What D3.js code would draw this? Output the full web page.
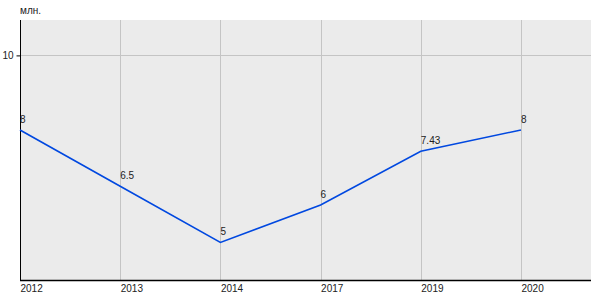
<!DOCTYPE html>
<html>
  <head>
    <meta charset="utf-8">
    <script type="text/javascript" src="https://cdn.jsdelivr.net/npm/d3@7"></script>
    <style>
      body { margin: 0; }
      text { font-family: "Liberation Sans", Arial, sans-serif; font-size: 10px; fill: #222; }
    </style>
  </head>
  <body>
    <script type="text/javascript">
    // data
    var years = ["2012", "2013", "2014", "2017", "2019", "2020"];
    var values = [8, 6.5, 5, 6, 7.43, 8];
    var yTicks = [10];
    var unit = "млн.";

    var plotLeft = 20, plotRight = 591, plotTop = 20, plotBottom = 280;

    var svg = d3.select('body').append('svg')
                .attr('width', 600)
                .attr('height', 300);

    var x = d3.scalePoint().domain(years).range([plotLeft, plotLeft + 100.2 * (years.length - 1)]);
    var y = d3.scaleLinear().domain([4, 10.93]).range([plotBottom, plotTop]);

    // background
    svg.append('rect')
       .attr('x', plotLeft).attr('y', plotTop)
       .attr('width', plotRight - plotLeft).attr('height', plotBottom - plotTop)
       .style('fill', '#ebebeb');

    // vertical grid
    svg.selectAll('line.vgrid')
       .data(years.slice(1))
       .enter()
       .append('line')
       .attr('x1', function(d) { return Math.round(x(d)) + 0.5; })
       .attr('x2', function(d) { return Math.round(x(d)) + 0.5; })
       .attr('y1', plotTop).attr('y2', plotBottom)
       .style('stroke', '#c4c4c4');

    // horizontal grid
    svg.selectAll('line.hgrid')
       .data(yTicks)
       .enter()
       .append('line')
       .attr('x1', plotLeft).attr('x2', plotRight)
       .attr('y1', function(d) { return Math.round(y(d)) + 0.5; })
       .attr('y2', function(d) { return Math.round(y(d)) + 0.5; })
       .style('stroke', '#c4c4c4');

    // y axis
    var yAxis = d3.axisLeft(y).tickValues(yTicks).tickFormat(d3.format('d')).tickSize(4).tickPadding(3);
    var gy = svg.append('g').attr('transform', 'translate(' + (plotLeft + 0.5) + ',0)').call(yAxis);
    gy.select('.domain').remove();
    gy.selectAll('line').attr('transform', 'translate(0,0.5)');
    gy.selectAll('text').style('font-family', '"Liberation Sans", Arial, sans-serif').style('font-size', '10px').style('fill', '#222');
    svg.append('line').attr('x1', plotLeft + 0.5).attr('x2', plotLeft + 0.5).attr('y1', plotTop).attr('y2', plotBottom)
       .style('stroke', '#000');

    // x axis
    var xAxis = d3.axisBottom(x).tickSize(0).tickPadding(4);
    var gx = svg.append('g').attr('transform', 'translate(0,' + (plotBottom + 0.5) + ')').call(xAxis);
    gx.select('.domain').remove();
    gx.selectAll('text').attr('text-anchor', 'start')
      .style('font-family', '"Liberation Sans", Arial, sans-serif').style('font-size', '10px').style('fill', '#222');
    svg.append('line').attr('x1', plotLeft).attr('x2', plotRight).attr('y1', plotBottom + 0.5).attr('y2', plotBottom + 0.5)
       .style('stroke', '#000').style('stroke-width', 1.5);

    // unit label
    svg.append('text').attr('x', plotLeft).attr('y', 14).text(unit);

    // line
    var line = d3.line()
                 .x(function(d, i) { return x(years[i]); })
                 .y(function(d) { return y(d); });
    svg.append('path')
       .datum(values)
       .attr('d', line)
       .style('fill', 'none')
       .style('stroke', '#0048e0')
       .style('stroke-width', 1.6);

    // value labels
    svg.selectAll('text.val')
       .data(values)
       .enter()
       .append('text')
       .attr('class', 'val')
       .attr('x', function(d, i) { return x(years[i]); })
       .attr('y', function(d) { return y(d) - 7; })
       .text(function(d) { return d; });
    </script>
  </body>
</html>
